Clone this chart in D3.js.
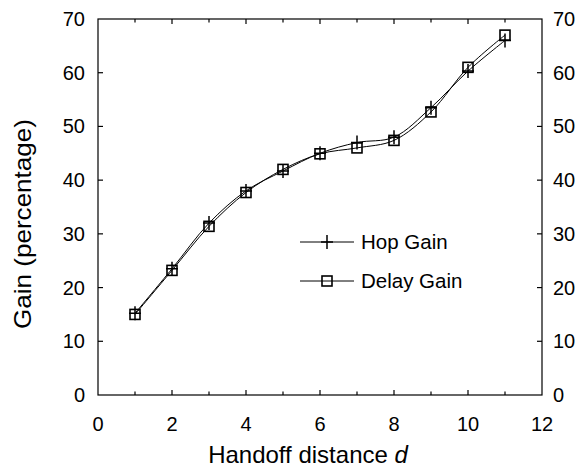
<!DOCTYPE html>
<meta charset="utf-8">
<title>Handoff gain</title>
<style>
body { margin: 0; background: #fff; }
svg { font-family: "Liberation Sans", Arial, sans-serif; }
</style>
<svg width="583" height="469"></svg>
<script src="https://d3js.org/d3.v7.min.js"></script>
<script>
  // data
  var distance = [1, 2, 3, 4, 5, 6, 7, 8, 9, 10, 11]
  var hopGain = [15.2, 23.5, 32, 38, 41.7, 45, 47, 48, 53.5, 60.3, 66]
  var delayGain = [15, 23.2, 31.4, 37.7, 42, 44.9, 46, 47.4, 52.7, 61, 67]
  var xTicks = [0, 2, 4, 6, 8, 10, 12]
  var yTicks = [0, 10, 20, 30, 40, 50, 60, 70]

  var svg = d3.select("svg"),
    pLeft = 98, pRight = 542, pTop = 19, pBottom = 395

  var x = d3.scaleLinear().domain([0, 12]).range([pLeft, pRight])
  var y = d3.scaleLinear().domain([0, 70]).range([pBottom, pTop])

  // frame
  svg.append("rect")
    .attr("x", pLeft).attr("y", pTop)
    .attr("width", pRight - pLeft).attr("height", pBottom - pTop)
    .attr("fill", "none").attr("stroke", "#000").attr("stroke-width", 1.2)

  // inward ticks, majors at even, minors at odd
  var g = svg.append("g").attr("stroke", "#000").attr("stroke-width", 1.2)
  d3.range(1, 12).forEach(function(v) {
    var len = v % 2 == 0 ? 5 : 3.5
    g.append("line").attr("x1", x(v)).attr("x2", x(v)).attr("y1", pBottom).attr("y2", pBottom - len)
    g.append("line").attr("x1", x(v)).attr("x2", x(v)).attr("y1", pTop).attr("y2", pTop + len)
  })
  yTicks.slice(1, -1).forEach(function(v) {
    g.append("line").attr("x1", pLeft).attr("x2", pLeft + 5).attr("y1", y(v)).attr("y2", y(v))
    g.append("line").attr("x1", pRight).attr("x2", pRight - 5).attr("y1", y(v)).attr("y2", y(v))
  })

  var lab = svg.append("g").attr("font-size", "20px").attr("fill", "#000")
  xTicks.forEach(function(v) {
    lab.append("text").attr("x", x(v)).attr("y", 431).attr("text-anchor", "middle").text(v)
  })
  yTicks.forEach(function(v) {
    lab.append("text").attr("x", 85).attr("y", y(v) + 7).attr("text-anchor", "end").text(v)
    lab.append("text").attr("x", 553).attr("y", y(v) + 7).attr("text-anchor", "start").text(v)
  })

  svg.append("text")
    .attr("x", 308).attr("y", 463).attr("text-anchor", "middle")
    .attr("font-size", "24px")
    .html("Handoff distance <tspan font-style='italic'>d</tspan>")

  svg.append("text")
    .attr("transform", "translate(31,224) rotate(-90)")
    .attr("text-anchor", "middle").attr("font-size", "24px")
    .attr("textLength", 210).attr("lengthAdjust", "spacingAndGlyphs")
    .text("Gain (percentage)")

  var line = d3.line().curve(d3.curveCatmullRom.alpha(0.5))
    .x(function(d) { return x(d[0]) }).y(function(d) { return y(d[1]) })

  var series = [
    { name: "Hop Gain", values: hopGain, marker: "plus" },
    { name: "Delay Gain", values: delayGain, marker: "square" }
  ]

  function drawMarker(sel, type, cx, cy) {
    if (type == "plus") {
      sel.append("path")
        .attr("d", "M" + (cx - 6) + "," + cy + "H" + (cx + 6) + "M" + cx + "," + (cy - 7) + "V" + (cy + 7))
        .attr("stroke", "#000").attr("stroke-width", 1.5).attr("fill", "none")
    } else {
      sel.append("rect")
        .attr("x", cx - 5).attr("y", cy - 5).attr("width", 10).attr("height", 10)
        .attr("fill", "none").attr("stroke", "#000").attr("stroke-width", 1.6)
    }
  }

  series.forEach(function(s) {
    var pts = distance.map(function(d, i) { return [d, s.values[i]] })
    svg.append("path").datum(pts).attr("d", line)
      .attr("fill", "none").attr("stroke", "#000").attr("stroke-width", 1)
    var mg = svg.append("g")
    pts.forEach(function(p) { drawMarker(mg, s.marker, x(p[0]), y(p[1])) })
  })

  // legend
  var legend = svg.append("g")
  series.forEach(function(s, i) {
    var ly = 242 + i * 39
    legend.append("line").attr("x1", 300).attr("x2", 354).attr("y1", ly).attr("y2", ly)
      .attr("stroke", "#000").attr("stroke-width", 1)
    drawMarker(legend, s.marker, 327, ly)
    legend.append("text").attr("x", 361).attr("y", ly + 7).attr("font-size", "20.5px").text(s.name)
  })
</script>
